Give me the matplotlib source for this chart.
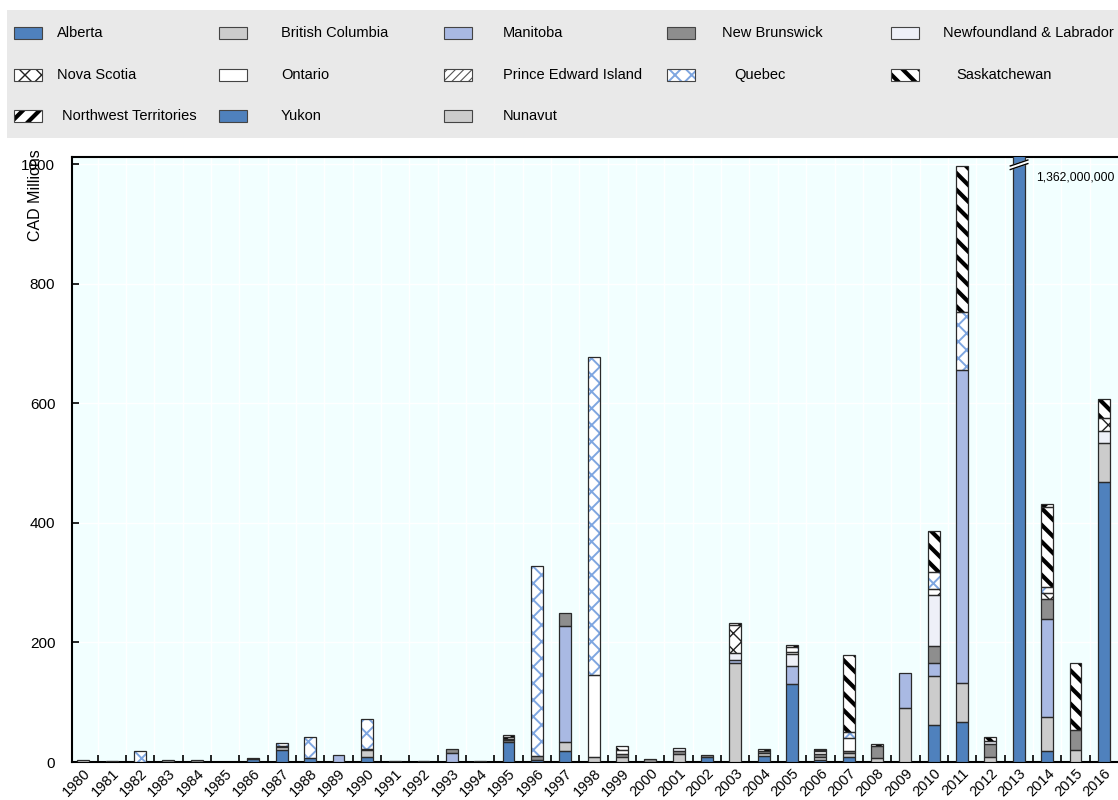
import matplotlib
matplotlib.use("Agg")
import matplotlib.pyplot as plt
import numpy as np
from matplotlib.patches import Rectangle

plt.rcParams["font.family"] = ["Liberation Sans", "DejaVu Sans"]
plt.rcParams["font.size"] = 11

years = list(range(1980, 2017))

# values in CAD millions (stack order bottom -> top)
alberta = [0, 0, 0, 0, 0, 0, 5, 20, 7, 0, 8, 0, 0, 0, 0, 33, 4, 18, 0, 0,
           0, 0, 8, 0, 10, 130, 3, 9, 0, 0, 62, 67, 0, 1362000000, 18, 0, 469]
british_columbia = [3, 1, 0, 0, 0, 0, 0, 5, 0, 0, 12, 0, 0, 0, 1, 0, 0, 15, 8, 8,
                    0, 14, 0, 166, 5, 0, 6, 6, 6, 91, 82, 65, 8, 0, 58, 20, 65]
manitoba = [0, 0, 0, 0, 0, 0, 0, 0, 0, 12, 0, 0, 0, 15, 0, 0, 0, 195, 0, 0,
            0, 0, 0, 4, 0, 30, 0, 0, 0, 58, 22, 524, 0, 0, 164, 0, 0]
new_brunswick = [0, 0, 0, 3, 3, 0, 1, 2, 0, 0, 2, 1, 1, 6, 0, 3, 6, 22, 0, 6,
                 5, 5, 4, 0, 4, 0, 5, 3, 20, 0, 28, 0, 22, 0, 32, 33, 0]
newfoundland = [0, 0, 0, 0, 0, 0, 0, 0, 0, 0, 0, 0, 0, 0, 0, 0, 0, 0, 0, 0,
                0, 5, 0, 13, 0, 20, 0, 0, 0, 0, 85, 0, 5, 0, 0, 0, 20]
nova_scotia = [0, 0, 0, 0, 0, 0, 0, 0, 0, 0, 0, 0, 0, 0, 0, 0, 0, 0, 0, 0,
               0, 0, 0, 46, 0, 0, 0, 0, 0, 0, 10, 0, 0, 0, 10, 0, 22]
ontario = [0, 0, 0, 0, 0, 0, 0, 0, 0, 0, 0, 0, 0, 0, 0, 2, 0, 0, 137, 6,
           0, 0, 0, 0, 0, 4, 4, 22, 0, 0, 0, 0, 0, 0, 0, 0, 0]
prince_edward = [0] * 37
quebec = [0, 0, 18, 0, 0, 0, 0, 5, 35, 0, 50, 0, 0, 0, 0, 0, 318, 0, 533, 0,
          0, 0, 0, 0, 0, 9, 2, 11, 0, 0, 29, 96, 0, 0, 11, 0, 0]
saskatchewan = [0, 0, 0, 0, 0, 0, 0, 0, 0, 0, 0, 0, 0, 0, 0, 4, 0, 0, 0, 7,
                0, 0, 0, 4, 3, 3, 2, 128, 4, 0, 69, 245, 7, 0, 134, 113, 31]
nwt = [0, 0, 0, 0, 0, 0, 0, 0, 0, 0, 0, 0, 0, 0, 0, 3, 0, 0, 0, 0,
       0, 0, 0, 0, 0, 0, 0, 0, 0, 0, 0, 0, 0, 0, 4, 0, 0]
yukon = [0] * 37
nunavut = [0] * 37

labels = ["Alberta", "British Columbia", "Manitoba", "New Brunswick",
          "Newfoundland & Labrador", "Nova Scotia", "Ontario",
          "Prince Edward Island", "Quebec", "Saskatchewan",
          "Northwest Territories", "Yukon", "Nunavut"]
series = [alberta, british_columbia, manitoba, new_brunswick, newfoundland,
          nova_scotia, ontario, prince_edward, quebec, saskatchewan, nwt,
          yukon, nunavut]

# (face, hatch, hatch colour, hatch linewidth)
styles = [
    ("#4f81bd", None, None, 0),
    ("#cccccc", None, None, 0),
    ("#a9b9e3", None, None, 0),
    ("#8e8e8e", None, None, 0),
    ("#eef0f8", None, None, 0),
    ("white", "xx", "#222222", 1.0),
    ("white", None, None, 0),
    ("white", "////", "#555555", 0.8),
    ("white", "xx", "#7ea6e0", 1.4),
    ("white", "\\\\", "black", 3.0),
    ("white", "//", "black", 3.0),
    ("#4f81bd", None, None, 0),
    ("#cccccc", None, None, 0),
]
EDGE = "#2a2a2a"
YMAX = 1012


def styled_bar(ax, x, h, bottom, style, width):
    face, hatch, hcol, hlw = style
    if hatch:
        with plt.rc_context({"hatch.linewidth": hlw}):
            bars = ax.bar(x, h, width, bottom=bottom, color=face,
                          edgecolor=hcol, hatch=hatch, linewidth=0, zorder=3)
        for b in bars:
            if hasattr(b, "set_hatch_linewidth"):
                b.set_hatch_linewidth(hlw)
    else:
        ax.bar(x, h, width, bottom=bottom, color=face, linewidth=0, zorder=3)
    ax.bar(x, h, width, bottom=bottom, fill=False, edgecolor=EDGE,
           linewidth=0.9, zorder=4)


fig = plt.figure(figsize=(11.18, 8), dpi=100)
ax = fig.add_axes([72 / 1118, 38 / 800, 1 - 72 / 1118, 605 / 800])
ax.set_facecolor("#f2ffff")

x = np.array(years, dtype=float)
bottom = np.zeros(len(years))
for vals, st in zip(series, styles):
    v = np.array(vals, dtype=float)
    mask = v > 0
    if mask.any():
        shown = np.minimum(v[mask], YMAX + 50)
        styled_bar(ax, x[mask], shown, bottom[mask], st, 0.42)
    bottom += v

ax.set_xlim(1979.6, 2016.5)
ax.set_ylim(0, YMAX)
ax.set_yticks([0, 200, 400, 600, 800, 1000])
ax.set_xticks(years)
ax.set_xticklabels([str(y) for y in years], rotation=45, ha="right",
                   rotation_mode="anchor")
ax.set_xticks(x[:-1] + 0.5, minor=True)
ax.tick_params(axis="x", which="major", length=0, pad=3, labelsize=10.5)
ax.tick_params(axis="x", which="minor", direction="in", length=5, width=1.2)
ax.tick_params(axis="y", direction="in", length=5, width=1.2, pad=12,
               labelsize=11)
ax.grid(True, axis="y", color="white", linewidth=1.0, zorder=0)
ax.grid(True, axis="x", which="minor", color="white", linewidth=1.0, zorder=0)
ax.set_axisbelow(True)
for side in ("left", "bottom", "top"):
    ax.spines[side].set_linewidth(1.5)
    ax.spines[side].set_color("black")
ax.spines["right"].set_visible(False)

# axis break on the 2013 bar
yr_big = years[int(np.argmax(alberta))]
ax.fill([yr_big - 0.3, yr_big + 0.32, yr_big + 0.32, yr_big - 0.3],
        [991, 1001, 1007, 997], color="white", zorder=6, clip_on=False)
ax.plot([yr_big - 0.3, yr_big + 0.32], [991, 1001], color="black", lw=1,
        zorder=7, clip_on=False)
ax.plot([yr_big - 0.3, yr_big + 0.32], [997, 1007], color="black", lw=1,
        zorder=7, clip_on=False)
ax.text(yr_big + 0.6, 977, f"{max(alberta):,.0f}", fontsize=8.7,
        ha="left", va="center", zorder=7)

fig.text(35 / 1118, 1 - 149 / 800, "CAD Millions", rotation=90,
         ha="center", va="top", fontsize=11.5)

# legend panel
lg = fig.add_axes([0, 0, 1, 1], zorder=10)
lg.set_xlim(0, 1118)
lg.set_ylim(800, 0)
lg.axis("off")
lg.add_patch(Rectangle((7, 10), 1111, 128, facecolor="#e9e9e9",
                       edgecolor="none"))
patch_x = [14, 219, 444, 667, 891]
row_y = [33, 75, 116]
text_x = [[57, 281, 503, 722, 943],
          [57, 281, 503, 734, 956],
          [62, 281, 503]]
for i, (lab, st) in enumerate(zip(labels, styles)):
    r, c = divmod(i, 5)
    face, hatch, hcol, hlw = st
    px, py = patch_x[c], row_y[r] - 6
    if hatch:
        with plt.rc_context({"hatch.linewidth": hlw}):
            p = Rectangle((px, py), 28, 12, facecolor=face, edgecolor=hcol,
                          hatch=hatch, linewidth=0)
        if hasattr(p, "set_hatch_linewidth"):
            p.set_hatch_linewidth(hlw)
        lg.add_patch(p)
    else:
        lg.add_patch(Rectangle((px, py), 28, 12, facecolor=face,
                               edgecolor="none"))
    lg.add_patch(Rectangle((px, py), 28, 12, fill=False, edgecolor="#444444",
                           linewidth=0.8))
    lg.text(text_x[r][c], row_y[r], lab, va="center", ha="left",
            fontsize=10.5)

fig.savefig("out.png", dpi=100)
